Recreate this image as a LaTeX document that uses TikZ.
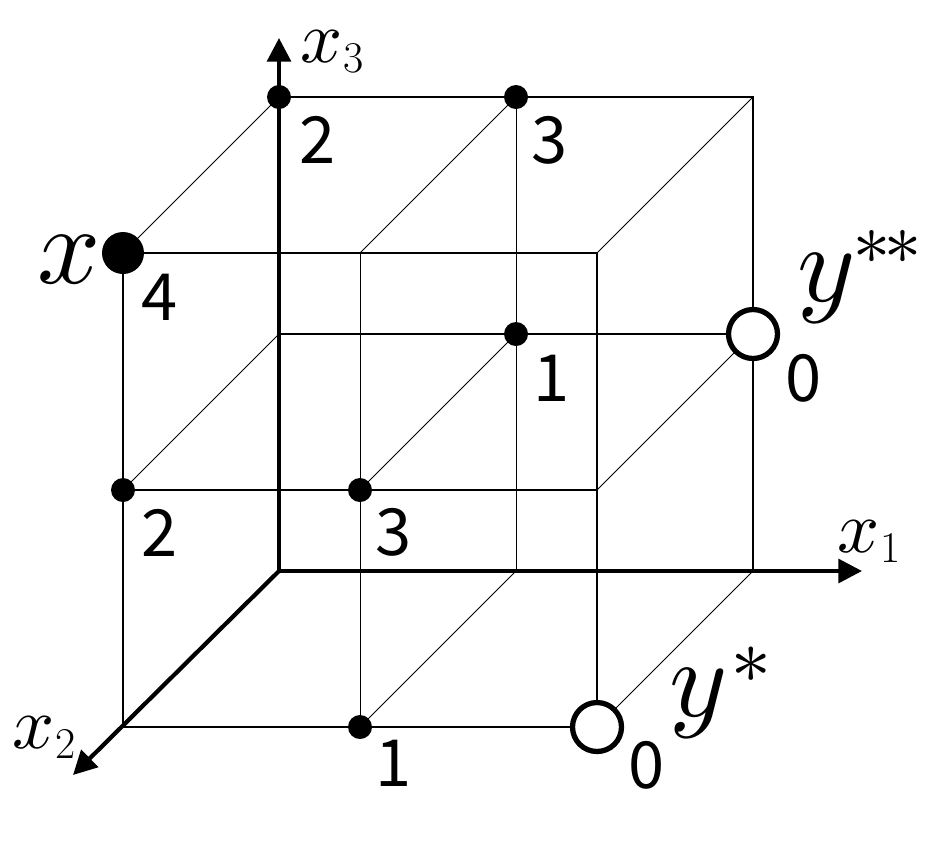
\documentclass[tikz,border=0pt]{standalone}
\usepackage{fontspec}
\usepackage{unicode-math}
\newfontfamily\digitfont{Noto Sans CJK JP}
\usetikzlibrary{arrows.meta}
\newcommand{\subd}[1]{\kern0.5pt\raisebox{-6.2pt}{\fontsize{25}{25}\selectfont #1}}
\newcommand{\starsone}{\raisebox{18.5pt}{\fontsize{45}{45}\selectfont$\ast$}}
\newcommand{\starstwo}{\raisebox{21pt}{\fontsize{42}{42}\selectfont$\ast$\kern-3.5pt$\ast$}}
\begin{document}
\begin{tikzpicture}[x=0.02cm,y=-0.02cm,
  med/.style={line width=1.1pt},
  thinline/.style={line width=0.5pt},
  axis/.style={line width=2.4pt,-{Triangle[length=13.5pt,width=13.5pt]}},
  dot/.style={circle,fill=black,inner sep=0pt,minimum size=0.48cm},
  bigdot/.style={circle,fill=black,inner sep=0pt,minimum size=0.84cm},
  opendot/.style={circle,draw=black,fill=white,line width=3pt,inner sep=0pt,minimum size=0.98cm},
  num/.style={font=\digitfont\fontsize{37}{37}\selectfont,inner sep=0pt},
  mathlbl/.style={font=\fontsize{63}{63}\selectfont,inner sep=0pt,anchor=base west},
  axlbl/.style={font=\fontsize{42}{42}\selectfont,inner sep=0pt,anchor=base west}]
\useasboundingbox (0,0) rectangle (928,850);
\foreach \i in {0,1,2}{\foreach \j in {0,1,2}{\foreach \k in {0,1,2}{
  \coordinate (p\i\j\k) at ({279+237*\i-78*\j},{571-237*\k+78*\j});}}}
\coordinate (x1tip) at (862,571);
\coordinate (x2tip) at (73,775);
\coordinate (x3tip) at (279,38);
% thin lines
\draw[thinline] (p102) -- (p100);
\draw[thinline] (p122) -- (p120);
\draw[thinline] (p002) -- (p022);
\draw[thinline] (p102) -- (p122);
\draw[thinline] (p202) -- (p222);
\draw[thinline] (p001) -- (p021);
\draw[thinline] (p101) -- (p121);
\draw[thinline] (p201) -- (p221);
\draw[thinline] (p100) -- (p120);
\draw[thinline] (p200) -- (p220);
% medium lines
\draw[med] (p002) -- (p202) -- (p200);
\draw[med] (p001) -- (p201);
\draw[med] (p022) -- (p222) -- (p220) -- (p020) -- cycle;
\draw[med] (p021) -- (p221);
% axes
\draw[axis] (p000) -- (x1tip);
\draw[axis] (p000) -- (x2tip);
\draw[axis] (p000) -- (x3tip);
% points
\node[dot] (a) at (p002) {};
\node[dot] (b) at (p102) {};
\node[bigdot] (xp) at (p022) {};
\node[dot] (c) at (p101) {};
\node[opendot] (yss) at (p201) {};
\node[dot] (d) at (p021) {};
\node[dot] (e) at (p121) {};
\node[dot] (f) at (p120) {};
\node[opendot] (ys) at (p220) {};
% numbers
\node[num] (na) at (318,140) {2};
\node[num] (nb) at (550,140) {3};
\node[num] (nx) at (160,297) {4};
\node[num] (nc) at (552,378) {1};
\node[num] (nyss) at (804,378) {0};
\node[num] (nd) at (160,533) {2};
\node[num] (ne) at (394,532) {3};
\node[num] (nf) at (394,763) {1};
\node[num] (nys) at (647,765) {0};
% labels
\node[mathlbl] (lx) at (37,283) {$x$};
\node[mathlbl] (lyss) at (797,301) {$y$\kern-0.5pt\starstwo};
\node[mathlbl] (lys) at (669,716) {$y$\kern2.5pt\starsone};
\node[axlbl] (lx1) at (837,552) {$x$\subd{1}};
\node[axlbl] (lx3) at (300,62) {$x$\subd{3}};
\node[axlbl] (lx2) at (12,748) {$x$\subd{2}};
\end{tikzpicture}
\end{document}
